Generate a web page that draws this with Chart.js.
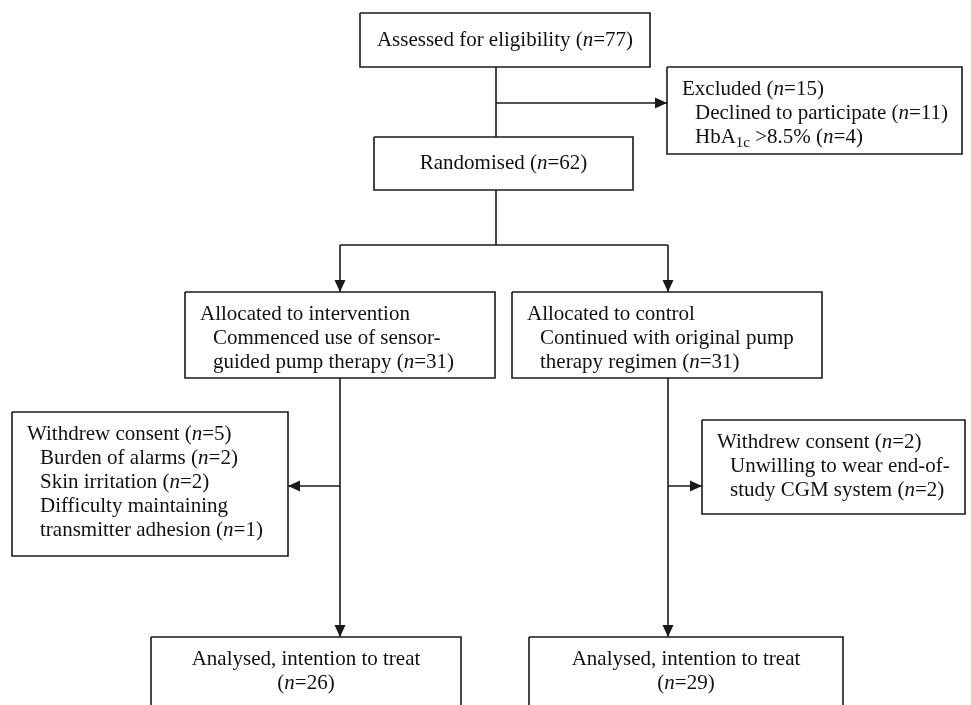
<!DOCTYPE html>
<html>
<head>
<meta charset="utf-8">
<script src="https://cdn.jsdelivr.net/npm/chart.js@4.4.1/dist/chart.umd.min.js"></script>
<style>
  html, body { margin: 0; padding: 0; background: #fff; }
  #wrap { width: 971px; height: 705px; position: relative; }
</style>
</head>
<body>
<div id="wrap"><canvas id="flow"></canvas></div>
<script>
// counts
const boxCounts = [77, 15, 62, 31, 31, 5, 2, 26, 29]; // main n of each box
const excludedCounts = [11, 4];          // declined, HbA1c
const withdrawIntCounts = [2, 2, 1];     // alarms, skin, adhesion
const withdrawCtlCounts = [2];           // CGM system

// box edges, in the chart's own units (0..971 across, 0..705 down)
const boxLeft   = [360, 667, 374, 185, 512,  12, 702, 151, 529];
const boxRight  = [650, 962, 633, 495, 822, 288, 965, 461, 843];
const boxTop    = [ 13,  67, 137, 292, 292, 412, 420, 637, 637];
const boxBottom = [ 67, 154, 190, 378, 378, 556, 514, 720, 720];
const boxAlign  = ['center', 'left', 'center', 'left', 'left', 'left', 'left', 'center', 'center'];

// *x* = italic, _x_ = subscript
const boxLines = [
  ['Assessed for eligibility (*n*=' + boxCounts[0] + ')'],
  ['Excluded (*n*=' + boxCounts[1] + ')',
   'Declined to participate (*n*=' + excludedCounts[0] + ')',
   'HbA_1c_ >8.5% (*n*=' + excludedCounts[1] + ')'],
  ['Randomised (*n*=' + boxCounts[2] + ')'],
  ['Allocated to intervention',
   'Commenced use of sensor-',
   'guided pump therapy (*n*=' + boxCounts[3] + ')'],
  ['Allocated to control',
   'Continued with original pump',
   'therapy regimen (*n*=' + boxCounts[4] + ')'],
  ['Withdrew consent (*n*=' + boxCounts[5] + ')',
   'Burden of alarms (*n*=' + withdrawIntCounts[0] + ')',
   'Skin irritation (*n*=' + withdrawIntCounts[1] + ')',
   'Difficulty maintaining',
   'transmitter adhesion (*n*=' + withdrawIntCounts[2] + ')'],
  ['Withdrew consent (*n*=' + boxCounts[6] + ')',
   'Unwilling to wear end-of-',
   'study CGM system (*n*=' + withdrawCtlCounts[0] + ')'],
  ['Analysed, intention to treat', '(*n*=' + boxCounts[7] + ')'],
  ['Analysed, intention to treat', '(*n*=' + boxCounts[8] + ')']
];

// connectors: polyline points + whether the end has an arrow head
const linkPoints = [
  [[496, 67], [496, 137]],
  [[496, 103], [667, 103]],
  [[496, 190], [496, 245]],
  [[340, 245], [668, 245]],
  [[340, 245], [340, 292]],
  [[668, 245], [668, 292]],
  [[340, 378], [340, 637]],
  [[340, 486], [288, 486]],
  [[668, 378], [668, 637]],
  [[668, 486], [702, 486]]
];
const linkArrow = [false, true, false, false, true, true, true, true, true, true];

const INK = '#1a1a1a';
const FAM = '"Liberation Serif", "Times New Roman", serif';
const FS = 21;
const SUB = 15;
const LINE_GAP = 24;

const datasets = [];
for (let i = 0; i < boxLeft.length; i++) {
  datasets.push({
    label: 'box' + i,
    data: [
      {x: boxLeft[i], y: boxTop[i]}, {x: boxRight[i], y: boxTop[i]},
      {x: boxRight[i], y: boxBottom[i]}, {x: boxLeft[i], y: boxBottom[i]},
      {x: boxLeft[i], y: boxTop[i]}
    ],
    showLine: true,
    borderColor: INK,
    borderWidth: 1.6,
    borderJoinStyle: 'miter',
    pointRadius: 0,
    fill: false
  });
}
for (let i = 0; i < linkPoints.length; i++) {
  datasets.push({
    label: 'link' + i,
    data: linkPoints[i].map(p => ({x: p[0], y: p[1]})),
    showLine: true,
    borderColor: INK,
    borderWidth: 1.6,
    pointRadius: 0,
    fill: false,
    arrow: linkArrow[i]
  });
}

function richSegs(str) {
  return str.split(/(\*[^*]+\*|_[^_]+_)/).filter(s => s.length).map(p => {
    if (p[0] === '*') return {t: p.slice(1, -1), font: 'italic ' + FS + 'px ' + FAM, dy: 0};
    if (p[0] === '_') return {t: p.slice(1, -1), font: SUB + 'px ' + FAM, dy: 6};
    return {t: p, font: FS + 'px ' + FAM, dy: 0};
  });
}

function drawRich(ctx, str, x, y, align) {
  const segs = richSegs(str);
  let total = 0;
  segs.forEach(s => { ctx.font = s.font; s.w = ctx.measureText(s.t).width; total += s.w; });
  let cx = align === 'center' ? x - total / 2 : x;
  segs.forEach(s => {
    ctx.font = s.font;
    ctx.fillText(s.t, cx, y + s.dy);
    cx += s.w;
  });
}

const arrowPlugin = {
  id: 'arrowHeads',
  afterDatasetsDraw(chart) {
    const ctx = chart.ctx;
    ctx.save();
    ctx.fillStyle = INK;
    chart.data.datasets.forEach((ds, i) => {
      if (!ds.arrow) return;
      const pts = chart.getDatasetMeta(i).data;
      const a = pts[pts.length - 2], b = pts[pts.length - 1];
      const ang = Math.atan2(b.y - a.y, b.x - a.x);
      const len = 12, half = 5.5;
      ctx.beginPath();
      ctx.moveTo(b.x, b.y);
      ctx.lineTo(b.x - len * Math.cos(ang) + half * Math.sin(ang), b.y - len * Math.sin(ang) - half * Math.cos(ang));
      ctx.lineTo(b.x - len * Math.cos(ang) - half * Math.sin(ang), b.y - len * Math.sin(ang) + half * Math.cos(ang));
      ctx.closePath();
      ctx.fill();
    });
    ctx.restore();
  }
};

const textPlugin = {
  id: 'boxText',
  afterDatasetsDraw(chart) {
    const ctx = chart.ctx;
    const xs = chart.scales.x, ys = chart.scales.y;
    ctx.save();
    ctx.fillStyle = '#111';
    ctx.textBaseline = 'middle';
    ctx.textAlign = 'left';
    boxLines.forEach((lines, i) => {
      const oneLine = lines.length === 1;
      const firstY = oneLine ? (boxTop[i] + boxBottom[i]) / 2 : boxTop[i] + 22;
      lines.forEach((ln, j) => {
        const yv = firstY + j * LINE_GAP;
        let xv;
        if (boxAlign[i] === 'center') xv = (boxLeft[i] + boxRight[i]) / 2;
        else xv = boxLeft[i] + 15 + (j > 0 ? 13 : 0);
        drawRich(ctx, ln, xs.getPixelForValue(xv), ys.getPixelForValue(yv), boxAlign[i]);
      });
    });
    ctx.restore();
  }
};

new Chart(document.getElementById('flow').getContext('2d'), {
  type: 'scatter',
  data: { datasets: datasets },
  options: {
    responsive: true,
    maintainAspectRatio: false,
    animation: false,
    events: [],
    layout: { padding: 0 },
    plugins: { legend: { display: false }, tooltip: { enabled: false } },
    scales: {
      x: { type: 'linear', min: 0, max: 971, display: false },
      y: { type: 'linear', min: 0, max: 705, reverse: true, display: false }
    }
  },
  plugins: [arrowPlugin, textPlugin]
});
</script>
</body>
</html>
